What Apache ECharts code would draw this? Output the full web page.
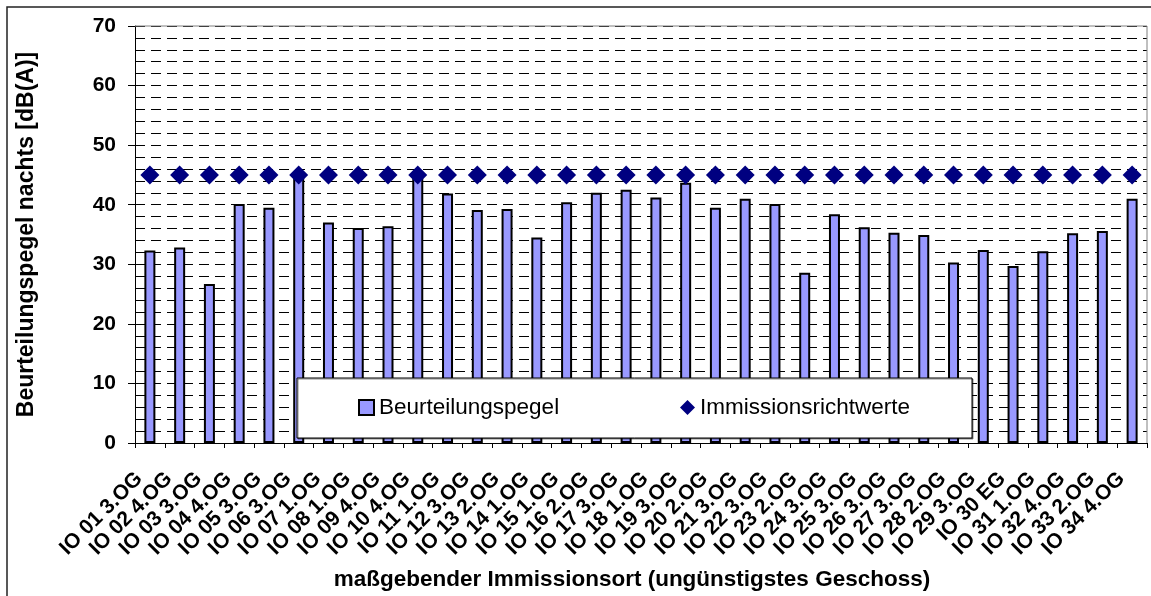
<!DOCTYPE html>
<html>
<head>
<meta charset="utf-8">
<script src="https://cdn.jsdelivr.net/npm/echarts@6/dist/echarts.min.js"></script>
<style>
html,body{margin:0;padding:0;background:#fff;}
#c{width:1151px;height:596px;}
</style>
</head>
<body>
<div id="c"></div>
<script>
const categories = ["IO 01 3.OG","IO 02 4.OG","IO 03 3.OG","IO 04 4.OG","IO 05 3.OG","IO 06 3.OG","IO 07 1.OG","IO 08 1.OG","IO 09 4.OG","IO 10 4.OG","IO 11 1.OG","IO 12 3.OG","IO 13 2.OG","IO 14 1.OG","IO 15 1.OG","IO 16 2.OG","IO 17 3.OG","IO 18 1.OG","IO 19 3.OG","IO 20 2.OG","IO 21 3.OG","IO 22 3.OG","IO 23 2.OG","IO 24 3.OG","IO 25 3.OG","IO 26 3.OG","IO 27 3.OG","IO 28 2.OG","IO 29 3.OG","IO 30 EG","IO 31 1.OG","IO 32 4.OG","IO 33 2.OG","IO 34 4.OG"];
const beurteilungspegel = [32.3,32.8,26.7,40.1,39.5,44.6,37.0,36.1,36.4,44.8,41.9,39.1,39.3,34.5,40.4,42.0,42.5,41.2,43.7,39.5,41.0,40.1,28.6,38.4,36.2,35.3,34.9,30.3,32.4,29.7,32.2,35.2,35.6,41.0];
const immissionsrichtwerte = [45,45,45,45,45,45,45,45,45,45,45,45,45,45,45,45,45,45,45,45,45,45,45,45,45,45,45,45,45,45,45,45,45,45];
const yMin = 0, yMax = 70, yStep = 10, gridStep = 2;
const seriesNames = ["Beurteilungspegel", "Immissionsrichtwerte"];
const xTitle = "maßgebender Immissionsort (ungünstigstes Geschoss)";
const yTitle = "Beurteilungspegel nachts [dB(A)]";

const FONT = "'Liberation Sans', Arial, sans-serif";
const chart = echarts.init(document.getElementById('c'), null, {renderer: 'canvas'});
chart.setOption({
  animation: false,
  backgroundColor: '#fff',
  textStyle: {fontFamily: FONT},
  grid: {left: 135, top: 26, right: 4, bottom: 153, containLabel: false},
  xAxis: {
    type: 'category',
    data: categories,
    boundaryGap: true,
    axisLine: {show: true, lineStyle: {color: '#000', width: 1}},
    axisTick: {show: true, alignWithLabel: false, length: 5, lineStyle: {color: '#000'}},
    axisLabel: {interval: 0, rotate: 45, margin: 22, padding: [0, 15, 0, 0], color: '#000', fontWeight: 'bold', fontSize: 21, fontFamily: FONT},
    splitLine: {show: false}
  },
  yAxis: [{
    type: 'value', min: yMin, max: yMax, interval: yStep,
    name: yTitle, nameLocation: 'middle', nameRotate: 90, nameGap: 97,
    nameTextStyle: {color: '#000', fontWeight: 'bold', fontSize: 23, fontFamily: FONT},
    axisLine: {show: true, lineStyle: {color: '#000', width: 1}},
    axisTick: {show: true, inside: false, length: 7, lineStyle: {color: '#000'}},
    axisLabel: {margin: 19, color: '#000', fontWeight: 'bold', fontSize: 21, fontFamily: FONT},
    splitLine: {show: false}
  }, {
    type: 'value', min: yMin, max: yMax, interval: gridStep, position: 'left',
    axisLine: {show: false},
    axisTick: {show: true, inside: true, length: 7, lineStyle: {color: '#000'}},
    axisLabel: {show: false},
    splitLine: {show: true, lineStyle: {color: '#000', width: 1, type: [10, 6]}}
  }],
  legend: [{
    data: [{name: seriesNames[0], icon: 'rect'}],
    left: 358, top: 396, padding: 0,
    itemWidth: 15, itemHeight: 15,
    textStyle: {color: '#000', fontSize: 22.5, fontFamily: FONT},
    z: 8
  }, {
    data: [{name: seriesNames[1], icon: 'diamond'}],
    left: 680, top: 396, padding: 0,
    itemWidth: 15, itemHeight: 15,
    textStyle: {color: '#000', fontSize: 22.5, fontFamily: FONT},
    z: 8
  }],
  graphic: [
    {type: 'rect', z: 7, shape: {x: 297, y: 378, width: 675, height: 60},
     style: {fill: '#fff', stroke: '#000', lineWidth: 1, shadowColor: 'rgba(0,0,0,0.45)', shadowOffsetX: 1, shadowOffsetY: 1, shadowBlur: 0}},
    {type: 'line', z: 9, shape: {x1: 135, y1: 26, x2: 1147, y2: 26}, style: {stroke: '#808080', lineWidth: 1}},
    {type: 'line', z: 9, shape: {x1: 1147, y1: 26, x2: 1147, y2: 443}, style: {stroke: '#808080', lineWidth: 1}},
    {type: 'rect', z: 9, shape: {x: 7, y: 7, width: 1300, height: 700}, style: {fill: null, stroke: '#222', lineWidth: 1.5}},
    {type: 'text', z: 9, x: 632, y: 580, style: {text: xTitle, textAlign: 'center', textVerticalAlign: 'middle', fill: '#000', font: 'bold 22.5px ' + FONT}}
  ],
  series: [{
    name: seriesNames[0],
    type: 'bar',
    data: beurteilungspegel,
    barWidth: 11,
    itemStyle: {color: '#9999FF', borderColor: '#000', borderWidth: 2, opacity: 1},
    z: 3
  }, {
    name: seriesNames[1],
    type: 'scatter',
    data: immissionsrichtwerte,
    symbol: 'diamond',
    symbolSize: [19, 19],
    itemStyle: {color: '#000080', opacity: 1},
    z: 4
  }]
});
</script>
</body>
</html>
